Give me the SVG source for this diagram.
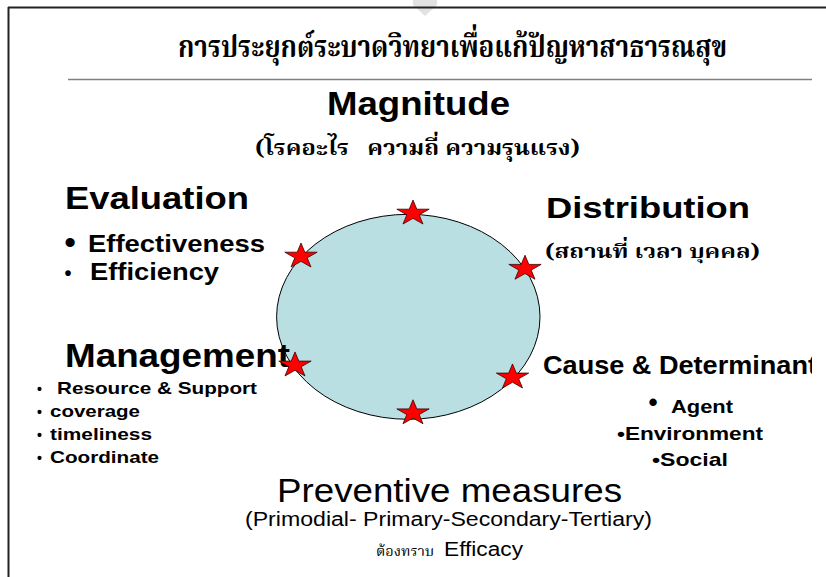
<svg xmlns="http://www.w3.org/2000/svg" width="826" height="577" viewBox="0 0 826 577">
  <defs>
    <style>
      .en { font-family: "Liberation Sans", Arial, sans-serif; font-weight: bold; fill: #000; }
      .reg { font-family: "Liberation Sans", Arial, sans-serif; font-weight: normal; fill: #000; }
      .th { font-family: "Noto Serif Thai", "Noto Sans Thai", "Liberation Serif", serif; font-weight: bold; fill: #000; }
      .thr { font-family: "Noto Serif Thai", "Noto Sans Thai", "Liberation Serif", serif; font-weight: normal; fill: #000; }
      .star { fill: #FF0000; stroke: #3a0000; stroke-width: 0.8; stroke-linejoin: miter; }
    </style>
    <path id="star" d="M0,-13.26 L3.82,-4.10 L16.17,-4.10 L6.18,1.57 L9.99,10.73 L0,5.07 L-9.99,10.73 L-6.18,1.57 L-16.17,-4.10 L-3.82,-4.10 Z"/>
    <clipPath id="clipR"><rect x="0" y="0" width="812" height="577"/></clipPath>
  </defs>

  <rect x="0" y="0" width="826" height="577" fill="#ffffff"/>

  <g id="frame">
    <polygon points="413,0 437,0 437,5 425,16 413,5" fill="#e2e2e2"/>
    <line x1="8" y1="7.5" x2="826" y2="7.5" stroke="#222" stroke-width="2"/>
    <line x1="8.5" y1="7" x2="8.5" y2="577" stroke="#222" stroke-width="2"/>
    <line x1="68" y1="79.5" x2="812" y2="79.5" stroke="#808080" stroke-width="1.5"/>
  </g>

  <g id="title">
    <text class="th" x="178" y="57" font-size="31" textLength="549" lengthAdjust="spacingAndGlyphs">การประยุกต์ระบาดวิทยาเพื่อแก้ปัญหาสาธารณสุข</text>
  </g>

  <g id="cycle">
    <ellipse cx="408.3" cy="316.8" rx="131.7" ry="102.5" fill="#B9DFE3" stroke="#000" stroke-width="1"/>
  </g>

  <g id="magnitude">
    <text class="en" x="327" y="115" font-size="32.5" textLength="183" lengthAdjust="spacingAndGlyphs">Magnitude</text>
    <text class="th" x="255" y="155" font-size="22" textLength="325" lengthAdjust="spacingAndGlyphs" xml:space="preserve">(โรคอะไร   ความถี่ ความรุนแรง)</text>
  </g>

  <g id="evaluation">
    <text class="en" x="64.4" y="252.5" font-size="32">•</text>
    <text class="en" x="88" y="252" font-size="23" textLength="177" lengthAdjust="spacingAndGlyphs">Effectiveness</text>
    <text class="en" x="64.5" y="280" font-size="20">•</text>
    <text class="en" x="90" y="280" font-size="23" textLength="129" lengthAdjust="spacingAndGlyphs">Efficiency</text>
    <text class="en" x="65" y="209" font-size="31.5" textLength="184" lengthAdjust="spacingAndGlyphs">Evaluation</text>
  </g>

  <g id="distribution">
    <text class="en" x="546" y="218" font-size="30" textLength="204" lengthAdjust="spacingAndGlyphs">Distribution</text>
    <text class="th" x="545" y="258" font-size="20" textLength="215" lengthAdjust="spacingAndGlyphs">(สถานที่ เวลา บุคคล)</text>
  </g>

  <g id="management">
    <text class="en" x="65" y="367" font-size="33" textLength="225" lengthAdjust="spacingAndGlyphs">Management</text>
    <text class="en" x="37" y="394" font-size="14">•</text>
    <text class="en" x="57" y="394" font-size="17" textLength="200" lengthAdjust="spacingAndGlyphs">Resource &amp; Support</text>
    <text class="en" x="37" y="417" font-size="14">•</text>
    <text class="en" x="50" y="417" font-size="17" textLength="90" lengthAdjust="spacingAndGlyphs">coverage</text>
    <text class="en" x="37" y="439.5" font-size="14">•</text>
    <text class="en" x="50" y="439.5" font-size="17" textLength="102" lengthAdjust="spacingAndGlyphs">timeliness</text>
    <text class="en" x="37" y="463" font-size="14">•</text>
    <text class="en" x="50" y="463" font-size="17" textLength="109" lengthAdjust="spacingAndGlyphs">Coordinate</text>
  </g>

  <g id="cause" clip-path="url(#clipR)">
    <text class="en" x="543" y="373.5" font-size="25.5" textLength="274" lengthAdjust="spacingAndGlyphs">Cause &amp; Determinant</text>
    <text class="en" x="648.5" y="411" font-size="26">•</text>
    <text class="en" x="671" y="413" font-size="19" textLength="62" lengthAdjust="spacingAndGlyphs">Agent</text>
    <text class="en" x="617" y="440" font-size="19" textLength="146" lengthAdjust="spacingAndGlyphs">•Environment</text>
    <text class="en" x="652" y="466" font-size="19" textLength="76" lengthAdjust="spacingAndGlyphs">•Social</text>
  </g>

  <g id="prevention">
    <text class="reg" x="277" y="501.7" font-size="32.5" textLength="345" lengthAdjust="spacingAndGlyphs">Preventive measures</text>
    <text class="reg" x="245" y="526" font-size="20" textLength="407" lengthAdjust="spacingAndGlyphs">(Primodial- Primary-Secondary-Tertiary)</text>
    <text class="thr" x="376" y="555.7" font-size="14" textLength="58" lengthAdjust="spacingAndGlyphs">ต้องทราบ</text>
    <text class="reg" x="444" y="556" font-size="20" textLength="79" lengthAdjust="spacingAndGlyphs">Efficacy</text>
  </g>

  <g id="stars">
    <use href="#star" class="star" transform="translate(413,213.3)"/>
    <use href="#star" class="star" transform="translate(301,256.3)"/>
    <use href="#star" class="star" transform="translate(525,268.5)"/>
    <use href="#star" class="star" transform="translate(295,365.2)"/>
    <use href="#star" class="star" transform="translate(512.5,377.2)"/>
    <use href="#star" class="star" transform="translate(413,413)"/>
  </g>
</svg>
